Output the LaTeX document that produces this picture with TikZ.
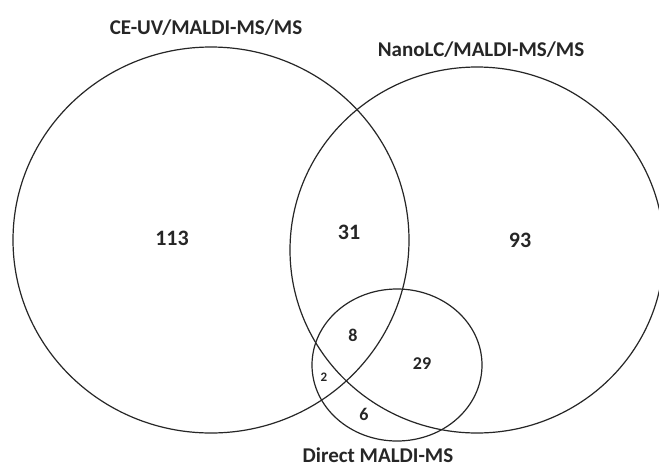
\documentclass[tikz,border=0pt]{standalone}
\usepackage{fontspec}
\setmainfont{Carlito}
\begin{document}
\begin{tikzpicture}[x=1pt,y=-1pt,
  setline/.style={draw=black!85, line width=1.2pt},
  lbl/.style={font=\fontsize{21}{25}\selectfont\bfseries, inner sep=0pt, text=black!85},
  num/.style={font=\fontsize{22}{26}\selectfont\bfseries, inner sep=0pt, text=black!85},
  smallnum/.style={font=\fontsize{18}{21}\selectfont\bfseries, inner sep=0pt, text=black!85}]
\useasboundingbox (0,0) rectangle (659,467);
\fill[white] (0,0) rectangle (659,467);
\clip (0,0) rectangle (659,467);
\draw[setline] (211,240) ellipse [x radius=198pt, y radius=193pt];
\draw[setline] (477,250) ellipse [x radius=187pt, y radius=183pt];
\draw[setline] (397,365) ellipse [x radius=85pt, y radius=76pt];
\node[lbl] (ce) at (206,28) {CE-UV/MALDI-MS/MS};
\node[lbl] (nano) at (481,50) {NanoLC/MALDI-MS/MS};
\node[lbl] (direct) at (378,455) {Direct MALDI-MS};
\node[num] (n113) at (172,238) {113};
\node[num] (n31) at (349,232) {31};
\node[num] (n93) at (520,240) {93};
\node[smallnum] (n8) at (353,335) {8};
\node[smallnum] (n29) at (422,364) {29};
\node[font=\fontsize{13}{15}\selectfont\bfseries, inner sep=0pt, text=black!85] (n2) at (324,377) {2};
\node[smallnum] (n6) at (364,414) {6};
\end{tikzpicture}
\end{document}
